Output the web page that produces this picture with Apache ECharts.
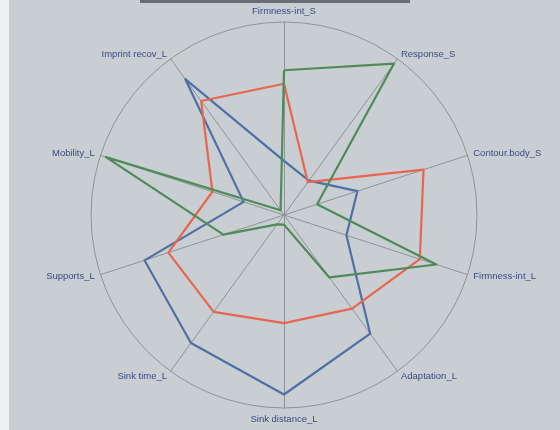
<!DOCTYPE html>
<html>
<head>
<meta charset="utf-8">
<script src="https://cdn.jsdelivr.net/npm/echarts@6/dist/echarts.min.js"></script>
<style>
html,body{margin:0;padding:0;background:#c8ced2;}
#chart{width:560px;height:430px;}
</style>
</head>
<body>
<div id="chart"></div>
<script>
// Indicators in counter-clockwise order starting from the top
var indicators = ['Firmness-int_S', 'Imprint recov_L', 'Mobility_L', 'Supports_L', 'Sink time_L',
  'Sink distance_L', 'Adaptation_L', 'Firmness-int_L', 'Contour.body_S', 'Response_S'];
var redValues   = [68, 73, 39, 63, 62, 56, 60, 74, 76, 21];
var blueValues  = [28, 87, 22, 76, 82, 93, 76, 34, 40, 22];
var greenValues = [75, 3, 97, 33, 6, 5, 40, 83, 18, 97];
var maxValue = 100;

var chart = echarts.init(document.getElementById('chart'));
chart.setOption({
  backgroundColor: '#c8ced2',
  animation: false,
  graphic: [
    { type: 'rect', left: 0, top: 0, shape: { width: 9, height: 430 }, style: { fill: '#eef0f1' }, silent: true },
    { type: 'rect', left: 140, top: 0, shape: { width: 270, height: 3 }, style: { fill: '#6a6e72' }, silent: true }
  ],
  radar: {
    center: [284, 215],
    radius: 193,
    startAngle: 90,
    shape: 'circle',
    splitNumber: 1,
    indicator: indicators.map(function (n) { return { name: n, max: maxValue }; }),
    axisName: { color: '#3b4a86', fontSize: 9.5, fontFamily: 'Liberation Sans' },
    nameGap: 6,
    axisLine: { lineStyle: { color: '#8e9496', width: 1 } },
    splitLine: { lineStyle: { color: '#8e9496', width: 1 } },
    splitArea: { show: false },
    axisTick: { show: false },
    axisLabel: { show: false }
  },
  series: [{
    type: 'radar',
    symbol: 'none',
    data: [
      { value: blueValues, name: 'blue', lineStyle: { color: '#4d70a6', width: 2.2 } },
      { value: redValues, name: 'red', lineStyle: { color: '#e8664e', width: 2.2 } },
      { value: greenValues, name: 'green', lineStyle: { color: '#4f8a5a', width: 2.2 } }
    ]
  }]
});
</script>
</body>
</html>
